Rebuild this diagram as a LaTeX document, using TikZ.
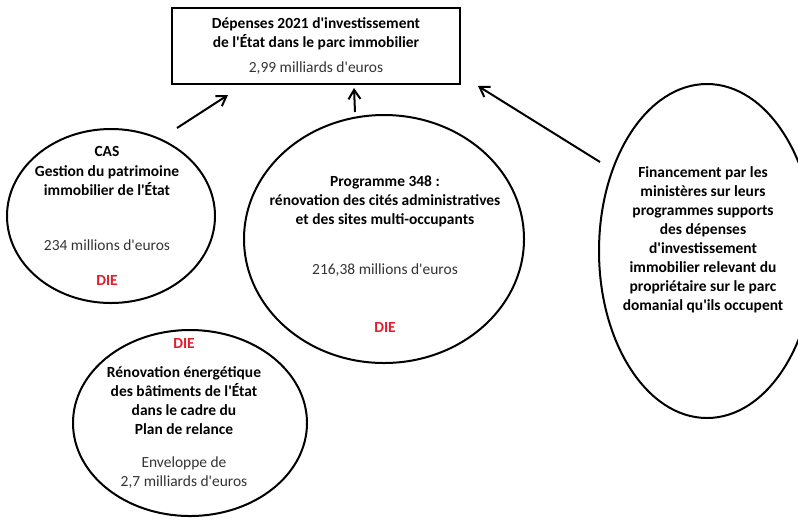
\documentclass[tikz,border=0pt]{standalone}
\usepackage{fontspec}
\setmainfont{Carlito}[Ligatures=TeXOff]
\usetikzlibrary{shapes.geometric, arrows.meta}
\definecolor{dieRed}{RGB}{226,30,45}

\begin{document}
\begin{tikzpicture}[x=0.75pt, y=-0.75pt, line width=1.5pt,
  bubble/.style={draw, ellipse, inner sep=0pt},
  title/.style={align=center, font=\fontsize{11.6}{14.3}\selectfont\bfseries},
  amount/.style={align=center, text=black!80, font=\fontsize{11.6}{14.3}\selectfont},
  die/.style={text=dieRed, font=\fontsize{11.6}{14.3}\selectfont\bfseries},
  arr/.style={-{Straight Barb[length=7pt, width=9pt]}}]
  \useasboundingbox (0,0) rectangle (798,519);
  \node[draw, line width=2pt, minimum width=216pt, minimum height=57pt, align=center,
        font=\fontsize{11.6}{14.3}\selectfont] (depenses) at (316,46)
        {\bfseries D\'epenses 2021 d'investissement\\ \bfseries de l'\'Etat dans le parc immobilier\\[4pt] {\color{black!80}2,99 milliards d'euros}};
  % les bulles
  \node[bubble, minimum width=156pt, minimum height=130.5pt] (cas) at (111,216) {};
  \node[bubble, minimum width=210pt, minimum height=186pt] (prog) at (384,239) {};
  \node[bubble, minimum width=162pt, minimum height=250.5pt] (fin) at (707,251) {};
  \node[bubble, minimum width=175.5pt, minimum height=139.5pt] (plan) at (190,423) {};
  % textes
  \node[title] (casT) at (107,171) {CAS\\Gestion du patrimoine\\immobilier de l'\'Etat};
  \node[amount] (casA) at (107,245) {234 millions d'euros};
  \node[die] (casD) at (107,280) {DIE};
  \node[title] (progT) at (385,201) {Programme 348 :\\r\'enovation des cit\'es administratives\\et des sites multi-occupants};
  \node[amount] (progA) at (385,270) {216,38 millions d'euros};
  \node[die] (progD) at (385,327) {DIE};
  \node[title] (finT) at (703,240) {Financement par les\\minist\`eres sur leurs\\programmes supports\\des d\'epenses\\d'investissement\\immobilier relevant du\\propri\'etaire sur le parc\\domanial qu'ils occupent};
  \node[die] (planD) at (184,343) {DIE};
  \node[title] (planT) at (184,401) {R\'enovation \'energ\'etique\\des b\^atiments de l'\'Etat\\dans le cadre du\\Plan de relance};
  \node[amount] (planA) at (184,473) {Enveloppe de\\2,7 milliards d'euros};
  % fleches
  \coordinate (casOut) at (177,128); \coordinate (casIn) at (228,95);
  \coordinate (progOut) at (355,112); \coordinate (progIn) at (354,88);
  \coordinate (finOut) at (600,162); \coordinate (finIn) at (478,86);
  \draw[arr] (casOut) -- (casIn);
  \draw[arr] (progOut) -- (progIn);
  \draw[arr] (finOut) -- (finIn);
\end{tikzpicture}
\end{document}
